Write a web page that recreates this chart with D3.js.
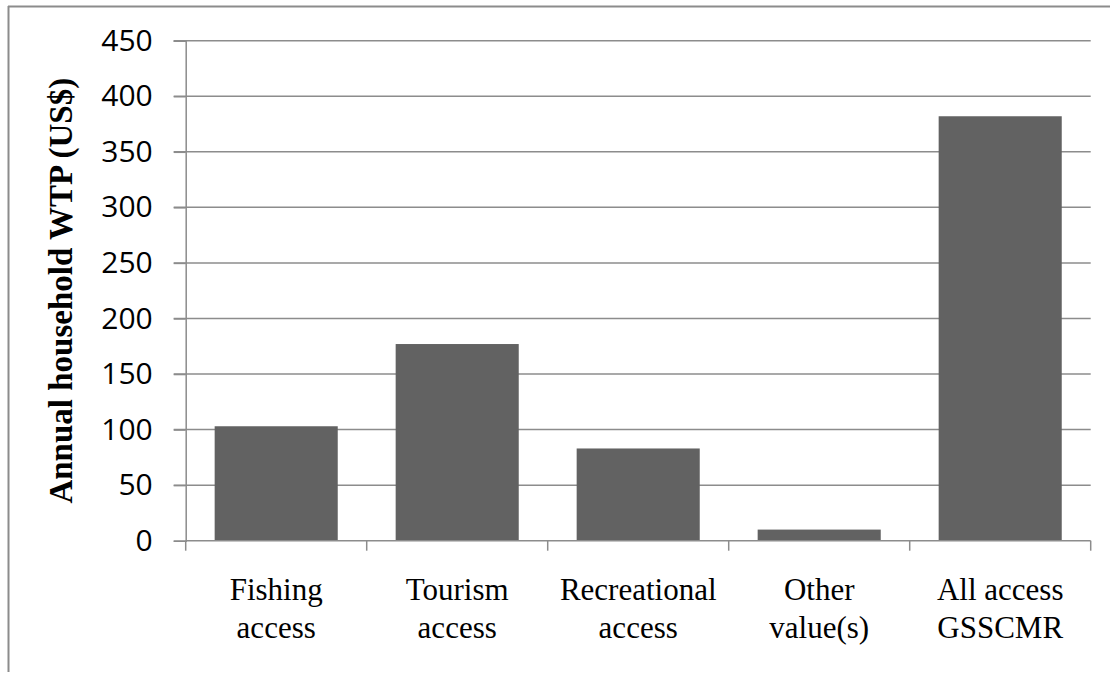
<!DOCTYPE html>
<html>
<head>
<meta charset="utf-8">
<script src="https://cdn.jsdelivr.net/npm/d3@7"></script>
<style>
  body { margin: 0; background: #fff; }
  #chart svg { display: block; }
</style>
</head>
<body>
<div id="chart"></div>
<script>
// Data
const categories = [
  ["Fishing", "access"],
  ["Tourism", "access"],
  ["Recreational", "access"],
  ["Other", "value(s)"],
  ["All access", "GSSCMR"]
];
const values = [103, 177, 83, 10, 382];
const yTicks = [0, 50, 100, 150, 200, 250, 300, 350, 400, 450];

const width = 1110;
const height = 675;
const svg = d3.select("#chart")
  .append("svg")
  .attr("width", width)
  .attr("height", height);

// Outer frame (top and left edges are visible)
svg.append("line")
  .attr("x1", 8).attr("x2", width)
  .attr("y1", 6.5).attr("y2", 6.5)
  .attr("stroke", "#8c8c8c").attr("stroke-width", 2);
svg.append("line")
  .attr("x1", 8.5).attr("x2", 8.5)
  .attr("y1", 6).attr("y2", 672)
  .attr("stroke", "#8c8c8c").attr("stroke-width", 2);

// Scales
const plotLeft = 185.7, plotRight = 1090.7, plotTop = 40.7, plotBottom = 540.7;
const x = d3.scaleBand()
  .domain(d3.range(categories.length))
  .range([plotLeft, plotRight])
  .paddingInner(0.32)
  .paddingOuter(0.16);
const y = d3.scaleLinear()
  .domain([0, 450])
  .range([plotBottom, plotTop]);

// Gridlines
svg.append("g")
  .selectAll("line")
  .data(yTicks.filter(d => d > 0))
  .enter().append("line")
  .attr("x1", plotLeft - 12)
  .attr("x2", plotRight)
  .attr("y1", d => y(d))
  .attr("y2", d => y(d))
  .attr("stroke", "#8c8c8c")
  .attr("stroke-width", 1.5);

// Bars
svg.append("g")
  .selectAll("rect")
  .data(values)
  .enter().append("rect")
  .attr("x", (d, i) => x(i))
  .attr("y", d => y(d))
  .attr("width", x.bandwidth())
  .attr("height", d => y(0) - y(d))
  .attr("fill", "#626262");

// Y axis
const yAxis = svg.append("g")
  .attr("transform", `translate(${plotLeft}, 0)`)
  .call(d3.axisLeft(y).tickValues(yTicks).tickSize(12).tickPadding(21));
yAxis.select(".domain").attr("stroke", "#8c8c8c").attr("stroke-width", 1.5);
yAxis.selectAll(".tick line").attr("stroke", "#8c8c8c").attr("stroke-width", 1.5);
yAxis.selectAll(".tick text")
  .attr("fill", "#000")
  .style("font-family", "'Open Sans', 'Liberation Sans', sans-serif")
  .style("font-size", "30px");

// X axis: baseline and category dividers
const step = (plotRight - plotLeft) / categories.length;
const dividers = d3.range(categories.length + 1).map(i => plotLeft + i * step);
svg.append("line")
  .attr("x1", plotLeft).attr("x2", plotRight)
  .attr("y1", plotBottom).attr("y2", plotBottom)
  .attr("stroke", "#8c8c8c").attr("stroke-width", 1.5);
svg.append("g")
  .selectAll("line")
  .data(dividers)
  .enter().append("line")
  .attr("x1", d => d).attr("x2", d => d)
  .attr("y1", plotBottom).attr("y2", plotBottom + 10)
  .attr("stroke", "#8c8c8c").attr("stroke-width", 1.5);

// Category labels
const labels = svg.append("g")
  .selectAll("text")
  .data(categories)
  .enter().append("text")
  .attr("text-anchor", "middle")
  .attr("fill", "#000")
  .style("font-family", "'Liberation Serif', 'Times New Roman', serif")
  .style("font-size", "31px");
labels.each(function(d, i) {
  const cx = x(i) + x.bandwidth() / 2;
  d.forEach((line, j) => {
    d3.select(this).append("tspan")
      .attr("x", cx)
      .attr("y", 600 + j * 38)
      .text(line);
  });
});

// Y axis title
svg.append("text")
  .attr("transform", `translate(72, ${(plotTop + plotBottom) / 2}) rotate(-90)`)
  .attr("text-anchor", "middle")
  .attr("fill", "#000")
  .style("font-family", "'Liberation Serif', 'Times New Roman', serif")
  .style("font-weight", "bold")
  .style("font-size", "33px")
  .text("Annual household WTP (US$)");
</script>
</body>
</html>
